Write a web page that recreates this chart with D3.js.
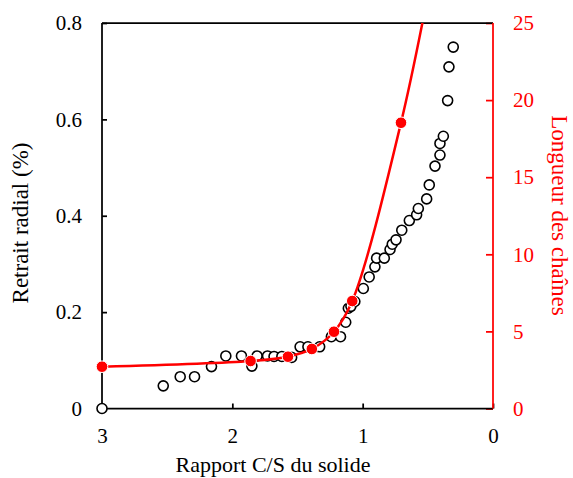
<!DOCTYPE html>
<html><head><meta charset="utf-8">
<script src="https://cdn.jsdelivr.net/npm/d3@7"></script>
<style>body{margin:0;background:#fff}svg{display:block}text{font-family:"Liberation Serif",serif}</style>
</head><body>
<svg id="c" width="573" height="478"></svg>
<script>
// Retrait radial (%) vs rapport C/S
const csRetrait = [3.0,2.53,2.40,2.29,2.16,2.05,1.93,1.85,1.81,1.73,1.68,1.62,1.545,1.48,1.42,1.33,1.24,1.17,1.13,1.11,1.09,1.06,0.995,0.95,0.906,0.893,0.834,0.79,0.773,0.744,0.70,0.642,0.586,0.573,0.509,0.489,0.445,0.407,0.407,0.381,0.348,0.338,0.305];
const retrait   = [0.0,0.047,0.066,0.066,0.087,0.109,0.109,0.088,0.109,0.109,0.108,0.108,0.106,0.128,0.128,0.128,0.149,0.149,0.179,0.208,0.212,0.222,0.249,0.273,0.294,0.312,0.312,0.330,0.341,0.350,0.370,0.390,0.402,0.415,0.435,0.464,0.503,0.526,0.550,0.565,0.639,0.709,0.750];
// Longueur des chaînes vs rapport C/S
const csLongueur = [3.0,1.86,1.573,1.39,1.22,1.08,0.706,0.45];
const longueur   = [2.71,3.08,3.36,3.86,4.98,6.97,18.53,29.0];
const xTicks = [3,2,1,0];
const yLeftTicks = [0,0.2,0.4,0.6,0.8];
const yRightTicks = [0,5,10,15,20,25];

const svg = d3.select("#c");
const L=102, R=493, T=23, B=408.5;
const x = d3.scaleLinear().domain([3,0]).range([L,R]);
const yL = d3.scaleLinear().domain([0,0.8]).range([B,T]);
const yR = d3.scaleLinear().domain([0,25]).range([B,T]);
const FS = 21;

svg.append("defs").append("clipPath").attr("id","clip")
  .append("rect").attr("x",L-8).attr("y",T).attr("width",R-L+16).attr("height",B-T+10);

// axes
const gx = svg.append("g").attr("transform",`translate(0,${B})`)
  .call(d3.axisBottom(x).tickValues(xTicks).tickSize(-5).tickPadding(20).tickFormat(d3.format("d")));
const gl = svg.append("g").attr("transform",`translate(${L},0)`)
  .call(d3.axisLeft(yL).tickValues(yLeftTicks).tickSize(-5).tickPadding(20).tickFormat(d=>d===0?"0":d3.format(".1f")(d)));
const gr = svg.append("g").attr("transform",`translate(${R},0)`)
  .call(d3.axisRight(yR).tickValues(yRightTicks).tickSize(-7).tickPadding(20).tickFormat(d3.format("d")));
[gx,gl,gr].forEach(g=>{g.select(".domain").remove();g.selectAll("text").attr("font-size",FS).attr("font-family","Liberation Serif");});
gx.selectAll(".tick line").attr("stroke","#000").attr("stroke-width",1.75);
gl.selectAll(".tick line").attr("stroke","#000").attr("stroke-width",1.75);
gr.selectAll(".tick line").attr("stroke","#f00").attr("stroke-width",1.75);
gr.selectAll("text").attr("fill","#f00");
gx.selectAll("text").attr("fill","#000");
gl.selectAll("text").attr("fill","#000");

// frame
svg.append("line").attr("x1",L).attr("x2",R).attr("y1",T).attr("y2",T).attr("stroke","#000").attr("stroke-width",1.75);
svg.append("line").attr("x1",L).attr("x2",R).attr("y1",B).attr("y2",B).attr("stroke","#000").attr("stroke-width",1.75);
svg.append("line").attr("x1",L).attr("x2",L).attr("y1",T).attr("y2",B).attr("stroke","#000").attr("stroke-width",1.75);
svg.append("line").attr("x1",R).attr("x2",R).attr("y1",T).attr("y2",B).attr("stroke","#f00").attr("stroke-width",1.75);

// black open circles
svg.append("g").selectAll("circle").data(csRetrait.map((c,i)=>[c,retrait[i]])).join("circle")
  .attr("cx",d=>x(d[0])).attr("cy",d=>yL(d[1])).attr("r",5)
  .attr("fill","#fff").attr("stroke","#000").attr("stroke-width",1.6);

// red line + dots
const pts = csLongueur.map((c,i)=>[c,longueur[i]]);
const g2 = svg.append("g").attr("clip-path","url(#clip)");
g2.append("path").datum(pts)
  .attr("d", d3.line().x(d=>x(d[0])).y(d=>yR(d[1])).curve(d3.curveCatmullRom.alpha(0.5)))
  .attr("fill","none").attr("stroke","#f00").attr("stroke-width",2.5);
g2.selectAll("circle").data(pts).join("circle")
  .attr("cx",d=>x(d[0])).attr("cy",d=>yR(d[1])).attr("r",5.8)
  .attr("fill","#f00").attr("stroke","#fff").attr("stroke-width",1);

// titles
svg.append("text").attr("x",273).attr("y",472).attr("text-anchor","middle")
  .attr("font-size",FS+1).text("Rapport C/S du solide");
svg.append("text").attr("transform",`translate(28,223) rotate(-90)`).attr("text-anchor","middle")
  .attr("font-size",FS+2).text("Retrait radial (%)");
svg.append("text").attr("transform",`translate(552,215.5) rotate(90)`).attr("text-anchor","middle")
  .attr("font-size",FS+2).attr("fill","#f00").text("Longueur des chaînes");
</script>
</body></html>
